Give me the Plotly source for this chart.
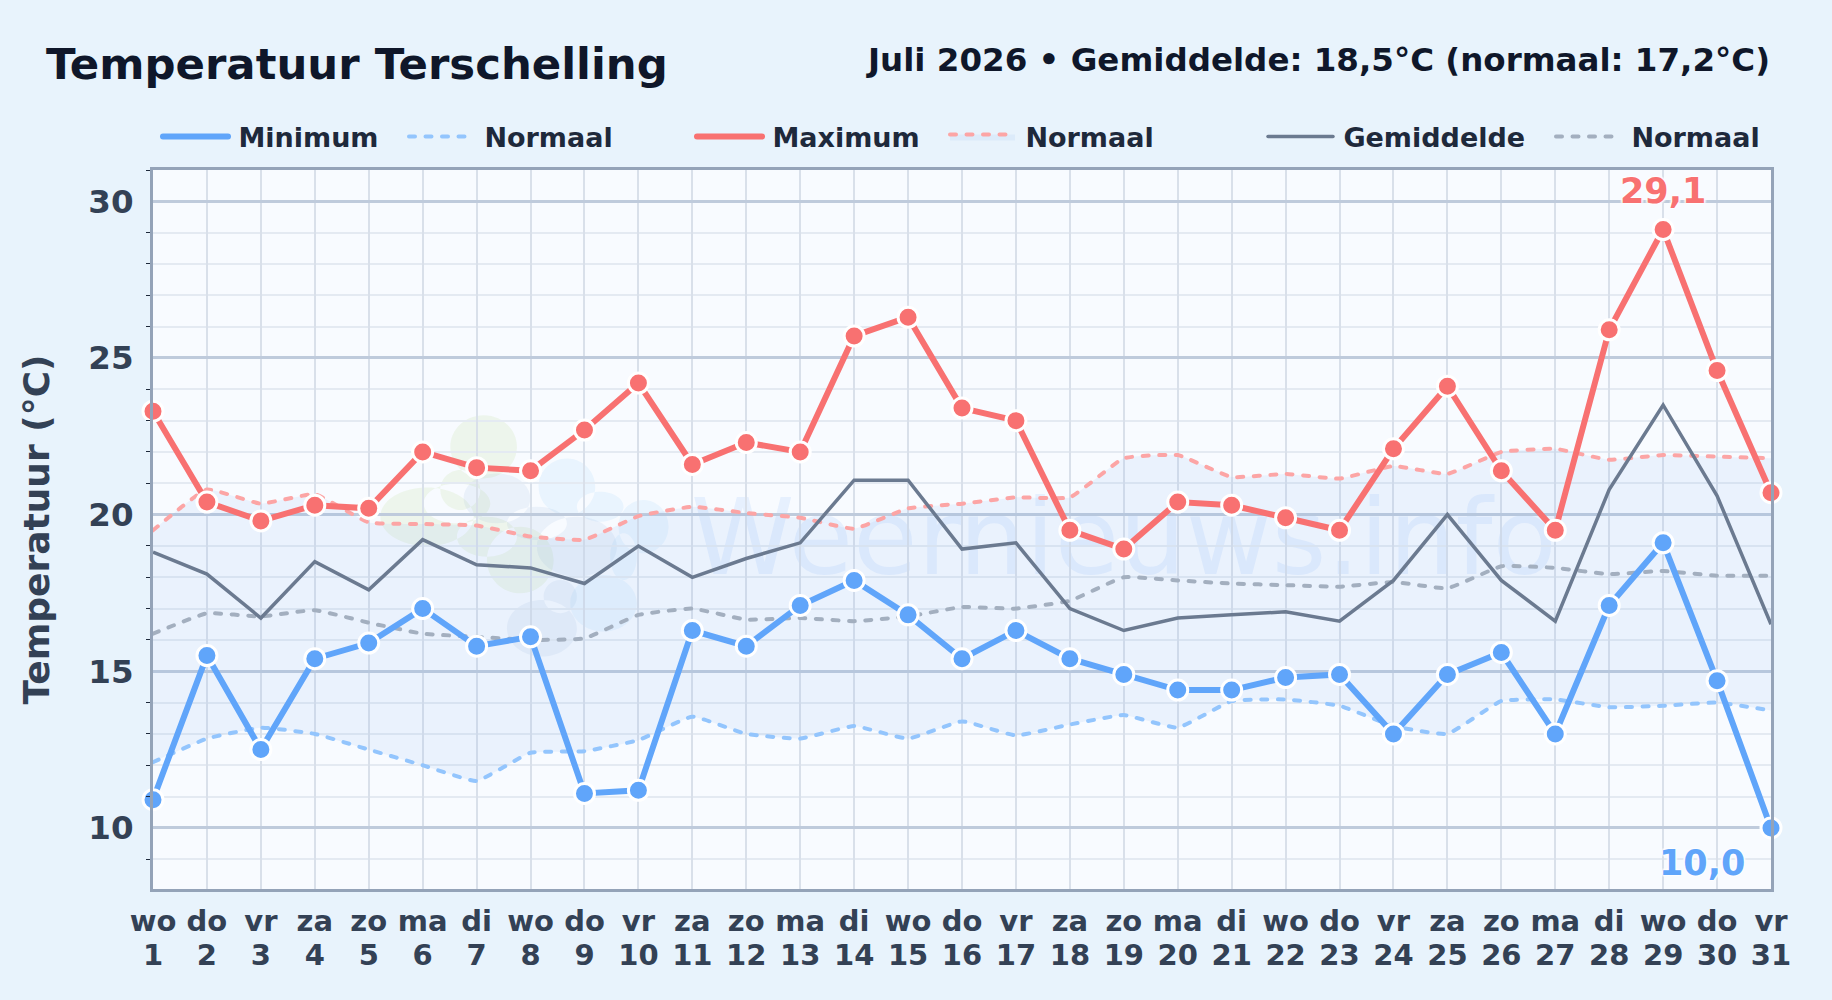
import plotly.graph_objects as go

days = list(range(1, 32))
weekdays = ["wo","do","vr","za","zo","ma","di","wo","do","vr","za","zo","ma","di","wo","do","vr","za","zo","ma","di","wo","do","vr","za","zo","ma","di","wo","do","vr"]
day_labels = [str(d) for d in days]

t_max = [23.3,20.4,19.8,20.3,20.2,22.0,21.5,21.4,22.7,24.2,21.6,22.3,22.0,25.7,26.3,23.4,23.0,19.5,18.9,20.4,20.3,19.9,19.5,22.1,24.1,21.4,19.5,25.9,29.1,24.6,20.7]
t_min = [10.9,15.5,12.5,15.4,15.9,17.0,15.8,16.1,11.1,11.2,16.3,15.8,17.1,17.9,16.8,15.4,16.3,15.4,14.9,14.4,14.4,14.8,14.9,13.0,14.9,15.6,13.0,17.1,19.1,14.7,10.0]
t_mean = [18.8,18.1,16.7,18.5,17.6,19.2,18.4,18.3,17.8,19.0,18.0,18.6,19.1,21.1,21.1,18.9,19.1,17.0,16.3,16.7,16.8,16.9,16.6,17.9,20.0,17.9,16.6,20.8,23.5,20.6,16.5]
norm_max = [19.5,20.8,20.35,20.65,19.75,19.7,19.65,19.3,19.2,19.95,20.25,20.05,19.9,19.55,20.2,20.35,20.55,20.55,21.8,21.9,21.2,21.3,21.15,21.55,21.3,22.0,22.1,21.75,21.9,21.85,21.8]
norm_min = [12.1,12.85,13.2,13.0,12.5,12.0,11.5,12.4,12.45,12.8,13.55,13.0,12.85,13.25,12.85,13.4,12.95,13.3,13.6,13.2,14.05,14.1,13.9,13.25,13.0,14.05,14.1,13.85,13.9,14.0,13.75]
norm_mean = [16.2,16.85,16.75,16.95,16.55,16.2,16.1,16.0,16.05,16.8,17.0,16.65,16.7,16.6,16.75,17.05,17.0,17.25,18.0,17.9,17.8,17.75,17.7,17.85,17.65,18.35,18.3,18.1,18.2,18.05,18.05]

FONT = "DejaVu Sans"
W, H = 1832, 1000
L, R, T, B = 152.5, 1771.5, 169.5, 889.5
PW, PH = R - L, B - T
DASH = "6px,10.5px"
SMOOTH = 0.35
GAP = "\u2009"

def line_trace(y, name, color, width, legend, dash=None, **kw):
    shape = "spline" if dash else "linear"
    return go.Scatter(x=days, y=y, name=GAP + name, mode="lines", legend=legend, cliponaxis=False,
                      line=dict(color=color, width=width, dash=dash or "solid", shape=shape,
                                smoothing=SMOOTH if dash else None), **kw)

def marker_trace(y, color):
    return go.Scatter(x=days, y=y, xaxis="x2", mode="markers", showlegend=False, cliponaxis=False, hoverinfo="skip",
                      marker=dict(size=20, color=color, line=dict(color="#ffffff", width=3)))

fig = go.Figure()
fig.add_trace(line_trace(norm_min, "Normaal", "#93c5fd", 4, "legend2", dash=DASH))
fig.add_trace(line_trace(norm_max, "Normaal", "#fca5a5", 4, "legend4", dash=DASH, fill="tonexty",
                         fillcolor="rgba(120,170,240,0.105)"))
fig.add_trace(line_trace(norm_mean, "Normaal", "#a3afbf", 4, "legend6", dash=DASH))
fig.add_trace(line_trace(t_mean, "Gemiddelde", "#6b7a90", 3.5, "legend5"))
fig.add_trace(line_trace(t_min, "Minimum", "#60a5fa", 6, "legend"))
fig.add_trace(line_trace(t_max, "Maximum", "#f87171", 6, "legend3"))
fig.add_trace(marker_trace(t_min, "#60a5fa"))
fig.add_trace(marker_trace(t_max, "#f87171"))

def blob(circles):
    # union of ellipses, given in reference page pixels
    k = 0.5523
    out = []
    X = lambda v: (v - L) / PW
    Y = lambda v: (B - v) / PH
    for cx, cy, rx, ry in circles:
        out.append(
            f"M{X(cx+rx)},{Y(cy)} "
            f"C{X(cx+rx)},{Y(cy+k*ry)} {X(cx+k*rx)},{Y(cy+ry)} {X(cx)},{Y(cy+ry)} "
            f"C{X(cx-k*rx)},{Y(cy+ry)} {X(cx-rx)},{Y(cy+k*ry)} {X(cx-rx)},{Y(cy)} "
            f"C{X(cx-rx)},{Y(cy-k*ry)} {X(cx-k*rx)},{Y(cy-ry)} {X(cx)},{Y(cy-ry)} "
            f"C{X(cx+k*rx)},{Y(cy-ry)} {X(cx+rx)},{Y(cy-k*ry)} {X(cx+rx)},{Y(cy)} Z")
    return " ".join(out)

def z(zx, zy, rx, ry):
    return (360 + zx / 3, 390 + zy / 3, rx / 3, ry / 3)

green = [z(370,170,100,95), z(200,380,140,88), z(480,510,100,100), z(300,300,60,60), z(380,440,90,60), z(290,340,100,60)]
bluegrey = [z(410,325,100,75), z(650,470,120,90), z(530,400,90,50), z(545,715,105,85), z(600,620,50,50)]
lightblue = [z(620,290,85,85), z(720,350,70,45), z(850,410,75,80), z(730,640,100,85), z(790,500,40,70)]
shapes = [
    dict(type="path", xref="paper", yref="paper", layer="below", path=blob(green),
         fillcolor="rgba(195,225,160,0.2)", line=dict(width=0)),
    dict(type="path", xref="paper", yref="paper", layer="below", path=blob(lightblue),
         fillcolor="rgba(140,205,245,0.14)", line=dict(width=0)),
    dict(type="path", xref="paper", yref="paper", layer="below", path=blob(bluegrey),
         fillcolor="rgba(130,165,205,0.11)", line=dict(width=0)),
    dict(type="rect", xref="paper", yref="paper", layer="below", x0=0.3, x1=0.9, y0=0.3, y1=0.7,
         line=dict(width=0), fillcolor="rgba(0,0,0,0)",
         label=dict(text="Weernieuws.info", textposition="middle center",
                    font=dict(family=FONT, size=105, color="rgba(59,130,246,0.09)"))),
]

HALO = ", ".join(["0 0 3px #ffffff"] * 6)
annotations = [
    dict(x=days[t_max.index(max(t_max))], y=max(t_max), xref="x", yref="y", showarrow=False, yshift=39,
         text=f"{max(t_max):.1f}".replace(".", ","),
         font=dict(family=FONT, size=35, color="#f87171", weight="bold", shadow=HALO)),
    dict(x=days[t_min.index(min(t_min))], y=min(t_min), xref="x", yref="y", showarrow=False, xshift=-69, yshift=-35,
         text=f"{min(t_min):.1f}".replace(".", ","),
         font=dict(family=FONT, size=35, color="#60a5fa", weight="bold", shadow=HALO)),
    dict(x=(1772.3 - L) / PW, y=(B - 59) / PH, xref="paper", yref="paper", showarrow=False, xanchor="right", yanchor="middle",
         text="Juli 2026 • Gemiddelde: 18,5°C (normaal: 17,2°C)",
         font=dict(family=FONT, size=32.5, color="#0f172a", weight="bold")),
]

def legend_at(px):
    return dict(x=(px - 2) / W, y=1 - 137 / H, xref="container", yref="container", xanchor="left", yanchor="middle",
                orientation="h", bgcolor="rgba(0,0,0,0)", borderwidth=0, itemwidth=65, itemclick=False,
                font=dict(family=FONT, size=27, color="#1e293b", weight="bold"))

TICK = dict(family=FONT, size=29, color="#334155", weight="bold")
fig.update_layout(
    width=W, height=H, autosize=False,
    margin=dict(l=L, r=W - R, t=T, b=H - B, pad=0, autoexpand=False),
    paper_bgcolor="#e8f3fc", plot_bgcolor="#f8fbff",
    title=dict(text="Temperatuur Terschelling", x=46 / W, xanchor="left", y=1 - 64 / H, yanchor="middle",
               xref="container", yref="container",
               font=dict(family=FONT, size=43.4, color="#0f172a", weight="bold")),
    legend=legend_at(160), legend2=legend_at(406), legend3=legend_at(694),
    legend4=legend_at(947), legend5=legend_at(1265), legend6=legend_at(1553),
    shapes=shapes, annotations=annotations,
    xaxis=dict(range=[1, 31], tickmode="array", tickvals=days, ticktext=weekdays, tickangle=0,
               showgrid=True, gridcolor="#d9e0ea", gridwidth=2, ticks="", zeroline=False,
               showline=True, linecolor="#94a3b8", linewidth=3, mirror=True,
               tickfont=TICK, ticklabelstandoff=4),
    xaxis2=dict(range=[1, 31], overlaying="x", side="bottom", anchor="y", tickmode="array", tickvals=days,
                ticktext=day_labels, tickangle=0, showgrid=False, ticks="", zeroline=False, showline=False,
                tickfont=TICK, ticklabelstandoff=46),
    yaxis=dict(range=[8.05, 31], tick0=0, dtick=5, tickmode="linear", showgrid=True, gridcolor="#bfcbdc", gridwidth=2.5,
               ticks="", zeroline=False, showline=True, linecolor="#94a3b8", linewidth=3, mirror=True,
               tickfont=dict(family=FONT, size=32.5, color="#334155", weight="bold"), ticklabelstandoff=10,
               minor=dict(dtick=1, tick0=0, showgrid=True, gridcolor="#e4eaf2", gridwidth=2,
                          ticks="outside", ticklen=4, tickwidth=1, tickcolor="#1e293b"),
               title=dict(text="Temperatuur (°C)", standoff=28,
                          font=dict(family=FONT, size=36, color="#334155", weight="bold"))),
)

POST = """
document.body.style.margin='0';document.body.style.overflow='hidden';document.body.style.background='#e8f3fc';
function roundCaps(){
  document.querySelectorAll('.js-line').forEach(function(p){
    var d=p.style.strokeDasharray;
    if((d&&d!=='none')||p.closest('.legendlines')){p.style.strokeLinecap='round';}
  });
}
roundCaps();setTimeout(roundCaps,0);setTimeout(roundCaps,100);
"""
fig.write_html("out.html", config={"displayModeBar": False}, post_script=POST)
